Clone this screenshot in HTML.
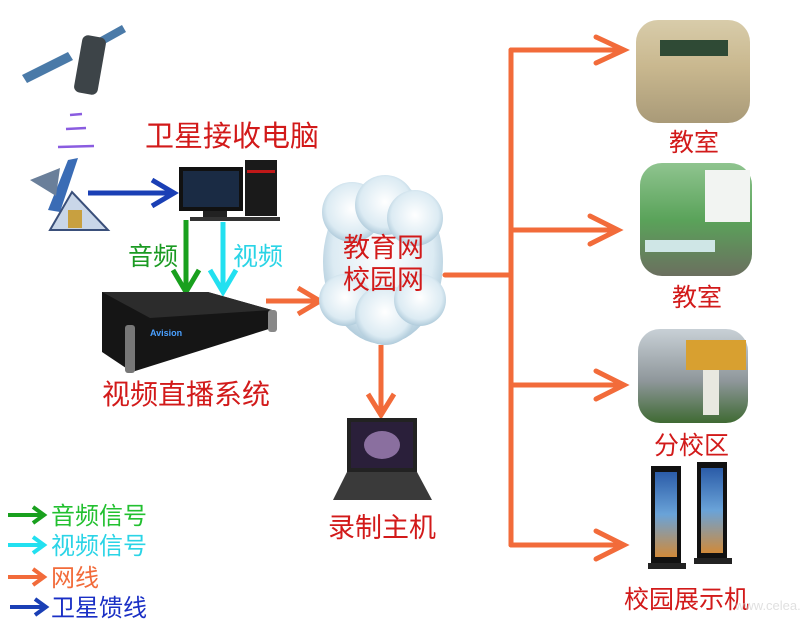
<!DOCTYPE html>
<html><head><meta charset="utf-8"><style>
html,body{margin:0;padding:0;background:#fff;width:800px;height:630px;overflow:hidden}
svg text{font-family:"Liberation Sans","Noto Sans CJK SC",sans-serif}
</style></head><body>
<svg width="800" height="630" viewBox="0 0 800 630" xmlns="http://www.w3.org/2000/svg">
<defs>
<radialGradient id="cl" cx="50%" cy="45%" r="60%"><stop offset="0" stop-color="#ffffff"/><stop offset="0.7" stop-color="#dcebf3"/><stop offset="1" stop-color="#9fbfd2"/></radialGradient>
<linearGradient id="room1" x1="0" y1="0" x2="0" y2="1"><stop offset="0" stop-color="#d8ccaa"/><stop offset="0.45" stop-color="#c9b88f"/><stop offset="1" stop-color="#a99a78"/></linearGradient>
<linearGradient id="room2" x1="0" y1="0" x2="0" y2="1"><stop offset="0" stop-color="#8fc48f"/><stop offset="0.5" stop-color="#5aa35a"/><stop offset="1" stop-color="#6b6f5f"/></linearGradient>
<linearGradient id="camp" x1="0" y1="0" x2="0" y2="1"><stop offset="0" stop-color="#c8d0d6"/><stop offset="0.55" stop-color="#8f979b"/><stop offset="1" stop-color="#3f6a33"/></linearGradient>
<linearGradient id="scr" x1="0" y1="0" x2="0" y2="1"><stop offset="0" stop-color="#2b5ca8"/><stop offset="0.5" stop-color="#6aa3d8"/><stop offset="1" stop-color="#d08a3a"/></linearGradient>
</defs>

<g>
<polygon points="22,75 68,52 73,60 27,83" fill="#4a7aa8"/>
<polygon points="95,40 122,25 126,32 99,47" fill="#4a7aa8"/>
<rect x="78" y="36" width="24" height="58" rx="6" fill="#3d4448" transform="rotate(10 90 65)"/>
</g>
<g stroke="#8a5ce0" stroke-width="2.5" fill="none">
<path d="M70 115 L82 114"/><path d="M66 129 L86 128"/><path d="M58 147 L94 146"/>
</g>
<g>
<polygon points="48,210 68,160 78,158 60,212" fill="#3a6cb5"/>
<polygon points="30,180 60,168 56,196" fill="#6a7f9a"/>
<polygon points="50,230 72,192 108,230" fill="#c9d6e8" stroke="#3a4f7a" stroke-width="2"/>
<rect x="68" y="210" width="14" height="18" fill="#c8a040"/>
</g>
<g stroke="#1a3fb5" stroke-width="5" fill="none"><line x1="88" y1="193" x2="172" y2="193"/><polyline points="152,180 174,193 152,206"/></g>

<text x="145" y="146" font-size="29" fill="#d21a1a">卫星接收电脑</text>

<rect x="179" y="167" width="64" height="44" fill="#111"/>
<rect x="183" y="171" width="56" height="36" fill="#1a2b44"/>
<rect x="203" y="211" width="24" height="8" fill="#222"/>
<rect x="190" y="217" width="90" height="4" fill="#333"/>
<rect x="245" y="160" width="32" height="56" fill="#1a1a1a"/>
<rect x="247" y="170" width="28" height="3" fill="#c01818"/>

<g stroke="#19a01e" stroke-width="5" fill="none"><line x1="186" y1="220" x2="186" y2="290"/><polyline points="173,270 186,292 199,270"/></g>
<g stroke="#22e0f0" stroke-width="5" fill="none"><line x1="223" y1="222" x2="223" y2="290"/><polyline points="210,270 223,292 236,270"/></g>
<text x="128" y="265" font-size="25" fill="#1a9a22">音频</text>
<text x="233" y="265" font-size="25" fill="#2ad4e6">视频</text>

<polygon points="102,292 208,292 272,310 272,328 132,372 102,352" fill="#151515"/>
<polygon points="102,292 208,292 272,310 150,318" fill="#2c2c2c"/>
<rect x="125" y="325" width="10" height="48" rx="3" fill="#777"/>
<rect x="268" y="310" width="9" height="22" rx="3" fill="#888"/>
<text x="150" y="336" font-size="9" fill="#4aa0ff" font-weight="bold">Avision</text>

<g stroke="#f26b3a" stroke-width="5" fill="none"><line x1="266" y1="301" x2="318" y2="301"/><polyline points="298,288 320,301 298,314"/></g>

<text x="102" y="404" font-size="28" fill="#d21a1a">视频直播系统</text>

<g fill="url(#cl)">
<ellipse cx="383" cy="262" rx="60" ry="82"/>
<circle cx="352" cy="212" r="30"/><circle cx="385" cy="205" r="30"/><circle cx="415" cy="218" r="28"/>
<circle cx="345" cy="300" r="26"/><circle cx="385" cy="315" r="30"/><circle cx="420" cy="300" r="26"/>
</g>
<text x="343" y="257" font-size="27" fill="#d21a1a">教育网</text>
<text x="343" y="289" font-size="27" fill="#d21a1a">校园网</text>

<g stroke="#f26b3a" stroke-width="5" fill="none"><line x1="381" y1="345" x2="381" y2="412"/><polyline points="368,394 381,415 394,394"/></g>

<rect x="347" y="418" width="70" height="54" fill="#222"/>
<rect x="351" y="422" width="62" height="46" fill="#2a1f3a"/>
<ellipse cx="382" cy="445" rx="18" ry="14" fill="#8a6f9f"/>
<polygon points="347,472 417,472 432,500 333,500" fill="#3a3a3a"/>
<text x="328" y="537" font-size="27" fill="#d21a1a">录制主机</text>

<g stroke="#f26b3a" stroke-width="5" fill="none" stroke-linecap="round">
<line x1="445" y1="275" x2="511" y2="275"/>
<line x1="511" y1="50" x2="511" y2="545"/>
<line x1="511" y1="50" x2="622" y2="50"/><polyline points="596,37 624,50 596,63"/>
<line x1="511" y1="230" x2="616" y2="230"/><polyline points="590,216 618,230 590,244"/>
<line x1="511" y1="385" x2="622" y2="385"/><polyline points="596,371 624,385 596,399"/>
<line x1="511" y1="545" x2="622" y2="545"/><polyline points="596,531 624,545 596,559"/>
</g>

<rect x="636" y="20" width="114" height="103" rx="22" fill="url(#room1)"/>
<rect x="660" y="40" width="68" height="16" fill="#2f4a35"/>
<text x="669" y="151" font-size="25" fill="#d21a1a">教室</text>

<rect x="640" y="163" width="112" height="113" rx="22" fill="url(#room2)"/>
<rect x="705" y="170" width="45" height="52" fill="#f2f4f2"/>
<rect x="645" y="240" width="70" height="12" fill="#cfe6e6"/>
<text x="672" y="306" font-size="25" fill="#d21a1a">教室</text>

<rect x="638" y="329" width="110" height="94" rx="22" fill="url(#camp)"/>
<rect x="686" y="340" width="60" height="30" fill="#d8a030"/>
<rect x="703" y="370" width="16" height="45" fill="#e8e8e0"/>
<text x="654" y="454" font-size="25" fill="#d21a1a">分校区</text>

<rect x="651" y="466" width="30" height="98" fill="#111"/>
<rect x="655" y="472" width="22" height="85" fill="url(#scr)"/>
<rect x="648" y="563" width="38" height="6" fill="#222"/>
<rect x="697" y="462" width="30" height="98" fill="#111"/>
<rect x="701" y="468" width="22" height="85" fill="url(#scr)"/>
<rect x="694" y="558" width="38" height="6" fill="#222"/>
<text x="624" y="608" font-size="25" fill="#d21a1a">校园展示机</text>
<text x="735" y="610" font-size="13" fill="#ccc" opacity="0.6">www.celea.com</text>

<g stroke-width="4" fill="none">
<g stroke="#19a01e"><line x1="8" y1="515" x2="42" y2="515"/><polyline points="33,507 44,515 33,523"/></g>
<g stroke="#22e0f0"><line x1="8" y1="545" x2="42" y2="545"/><polyline points="33,537 44,545 33,553"/></g>
<g stroke="#f26b3a"><line x1="8" y1="577" x2="42" y2="577"/><polyline points="33,569 44,577 33,585"/></g>
<g stroke="#1a3fb5"><line x1="10" y1="607" x2="44" y2="607"/><polyline points="35,599 46,607 35,615"/></g>
</g>
<text x="51" y="524" font-size="24" fill="#22c030">音频信号</text>
<text x="51" y="554" font-size="24" fill="#2ad4e6">视频信号</text>
<text x="51" y="586" font-size="24" fill="#f26b3a">网线</text>
<text x="51" y="616" font-size="24" fill="#1a2fc5">卫星馈线</text>
</svg>
</body></html>
